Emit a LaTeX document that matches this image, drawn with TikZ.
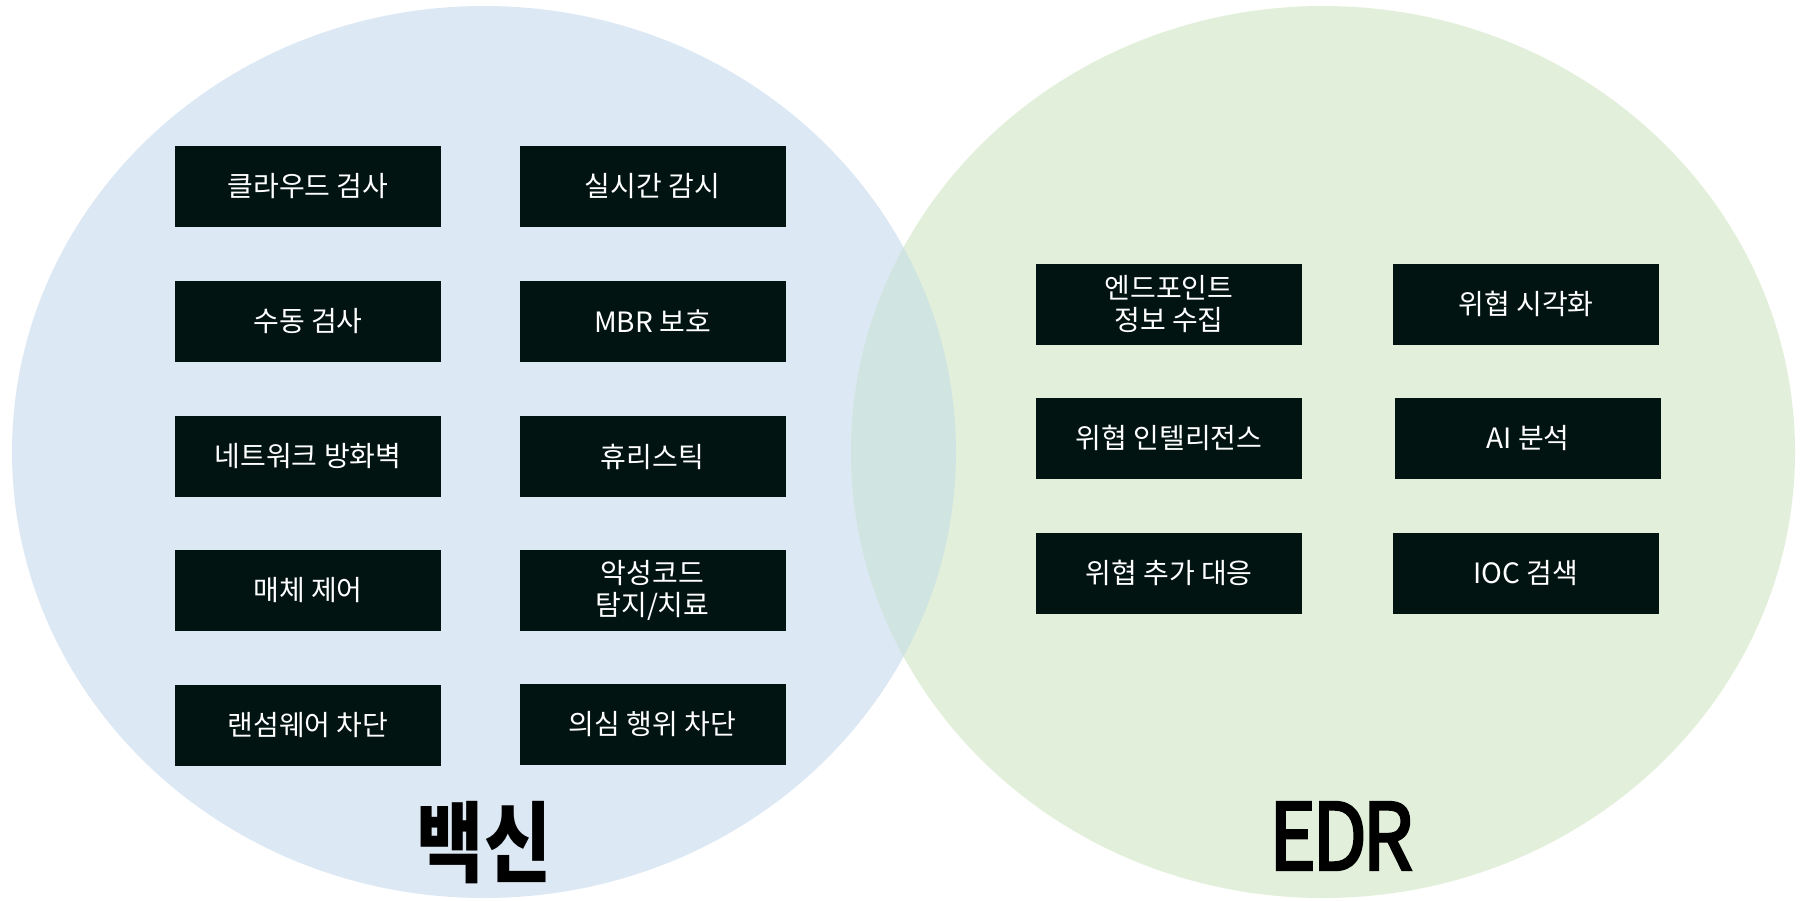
\documentclass[tikz,border=0pt]{standalone}
\usepackage{fontspec}
\setmainfont{Noto Sans CJK KR}
\newfontfamily\kr{Noto Sans CJK KR}
\newfontfamily\krfb[FakeBold=3.2]{Noto Sans CJK KR}
\definecolor{leftc}{RGB}{221,232,245}
\definecolor{rightc}{RGB}{226,239,218}
\definecolor{midc}{RGB}{208,228,226}
\definecolor{boxc}{RGB}{2,20,18}
\tikzset{
  feat/.style={fill=boxc, minimum width=266pt, minimum height=81pt, inner sep=0pt, text=white, align=center, font=\kr\fontsize{28}{32}\selectfont},
  title/.style={inner sep=0pt, text=black}
}
\begin{document}
\begin{tikzpicture}[x=1pt,y=-1pt]
\useasboundingbox (0,0) rectangle (1806,900);
\fill[leftc] (484,452) ellipse [x radius=472, y radius=446];
\fill[rightc] (1323,452) ellipse [x radius=472, y radius=446];
\begin{scope}
\clip (484,452) ellipse [x radius=472, y radius=446];
\fill[midc] (1323,452) ellipse [x radius=472, y radius=446];
\end{scope}
% left boxes
\node[feat] (a1) at (308,186.5) {클라우드 검사};
\node[feat] (b1) at (652.5,186.5) {실시간 감시};
\node[feat] (a2) at (308,321.5) {수동 검사};
\node[feat] (b2) at (652.5,321.5) {MBR 보호};
\node[feat] (a3) at (308,456.5) {네트워크 방화벽};
\node[feat] (b3) at (652.5,456.5) {휴리스틱};
\node[feat] (a4) at (308,590) {매체 제어};
\node[feat] (b4) at (652.5,590) {악성코드\\탐지/치료};
\node[feat] (a5) at (308,725) {랜섬웨어 차단};
\node[feat] (b5) at (652.5,724) {의심 행위 차단};
% right boxes
\node[feat] (c1) at (1169,304) {엔드포인트\\정보 수집};
\node[feat] (d1) at (1526,304) {위협 시각화};
\node[feat] (c2) at (1169,438) {위협 인텔리전스};
\node[feat] (d2) at (1528,438) {AI 분석};
\node[feat] (c3) at (1169,573) {위협 추가 대응};
\node[feat] (d3) at (1526,573) {IOC 검색};
% titles
\node[title, font=\kr\fontsize{88}{88}\selectfont\bfseries] (t1) at (484,843) {\scalebox{0.83}[1]{백신}};
\node[title, font=\krfb\fontsize{92}{92}\selectfont] (t2) at (1341,836) {\scalebox{0.86}[1]{E\kern-4pt D\kern-5pt R}};
\end{tikzpicture}
\end{document}
